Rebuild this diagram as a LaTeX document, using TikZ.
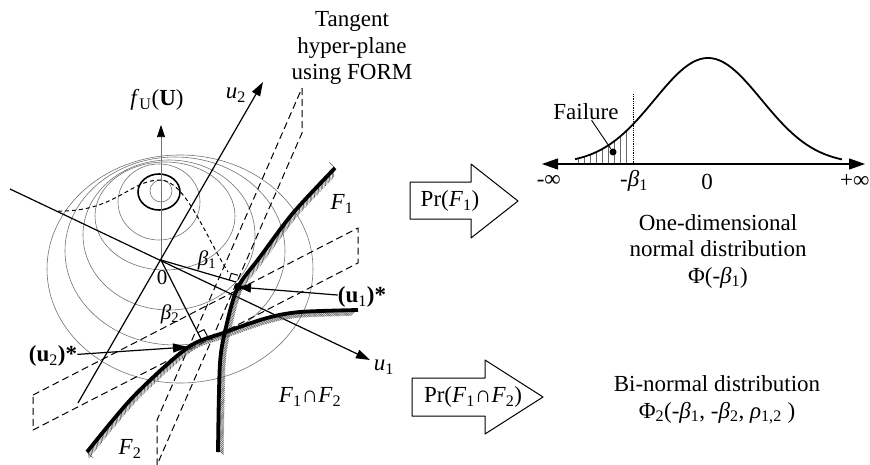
\documentclass[tikz,border=0pt]{standalone}
\usepackage{fontspec}
\setmainfont{Liberation Serif}
\usepackage{tikz}
\usetikzlibrary{calc}
\usetikzlibrary{arrows.meta}
\usetikzlibrary{decorations.pathreplacing}
\newcommand{\sub}[1]{\textsubscript{#1}}
\newcommand{\rightbox}[3]{\coordinate (rbA) at ($(#1)!7pt!(#2)$); \coordinate (rbB) at ($(#1)!7pt!#3:(#2)$); \draw[line width=1pt] (rbA) -- ($(rbA)+(rbB)-(#1)$) -- (rbB);}
\newcommand{\gauss}[1]{164-106*exp(-0.5*((#1-708)/53.5)^2)}

\begin{document}
\begin{tikzpicture}[x=1pt,y=-1pt,line join=round,
    txt/.style={font=\fontsize{23}{26.5}\selectfont, inner sep=0pt},
    sml/.style={font=\fontsize{21}{24}\selectfont, inner sep=0pt},
    contour/.style={black!55, line width=0.6pt},
    axis/.style={line width=1.2pt},
    plane/.style={dash pattern=on 7pt off 4pt, line width=1pt},
    limit/.style={line width=3.8pt},
    hatch/.style={black!65, line width=0.6pt, decorate, decoration={border, segment length=2pt, amplitude=#1, angle=45}},
    blockarrow/.style={line width=1pt, fill=white}]

    \useasboundingbox (0,0) rectangle (870,464);

    % contours of the joint density
    \draw[contour] (161,191) circle (11);
    \draw[line width=1.6pt] (159,192) ellipse [x radius=21, y radius=18];
    \foreach \cx/\cy/\rx/\ry in {159/202/41/38, 165/216/70/54, 169/235/86/75, 175/251/110/94, 180/269/133/114}
        \draw[contour] (\cx,\cy) ellipse [x radius=\rx, y radius=\ry];
    \draw[line width=1pt, dash pattern=on 4pt off 3pt] (58,211) .. controls (115,212) and (130,180) .. (160,180) .. controls (185,180) and (205,235) .. (228,272);

    % tangent planes
    \draw[plane] (302,88) -- (302,133) -- (157,465) -- (157,420) -- cycle;
    \draw[plane] (33,395) -- (358,228) -- (358,263) -- (33,430) -- cycle;

    % axes
    \coordinate (O) at (161,260);
    \coordinate (fUtip) at (161,125);
    \coordinate (u2a) at (78,403);
    \coordinate (u2b) at (263,82);
    \coordinate (u1a) at (10,189);
    \coordinate (u1b) at (370,360);
    \draw[contour, -{Triangle[length=12pt,width=8pt,color=black]}] (O) -- (fUtip);
    \draw[axis, -{Triangle[length=14pt,width=9pt]}] (u2a) -- (u2b);
    \draw[axis, -{Triangle[length=14pt,width=9pt]}] (u1a) -- (u1b);
    \node[txt] (fU) at (157,100) {\textit{f}\sub{U}(\textbf{U})};
    \node[txt] (u2) at (236,95) {\textit{u}\sub{2}};
    \node[txt] (u1) at (384,367) {\textit{u}\sub{1}};
    \node[sml] (zero0) at (162,278) {0};

    % reliability indices
    \coordinate (B1) at (236,282);
    \coordinate (B2) at (201,339);
    \draw[axis] (O) -- (B1);
    \draw[axis] (O) -- (B2);
    \rightbox{B1}{O}{-90}
    \rightbox{B2}{O}{-90}
    \node[sml] (beta1) at (207,260) {\textit{β}\sub{1}};
    \node[sml] (beta2) at (170,314) {\textit{β}\sub{2}};

    % limit state surfaces
    \draw[hatch=8pt] plot[smooth] coordinates {(335,168) (293,213) (260,257) (238,287) (227,323) (220,363) (218,452)};
    \draw[hatch=-8pt] plot[smooth] coordinates {(87,452) (133,397) (187,348) (223,333) (267,318) (300,312) (358,310)};
    \draw[limit] plot[smooth] coordinates {(335,168) (293,213) (260,257) (238,287) (227,323) (220,363) (218,452)};
    \draw[limit] plot[smooth] coordinates {(87,452) (133,397) (187,348) (223,333) (267,318) (300,312) (358,310)};
    \node[txt] (F1) at (342,204) {\textit{F}\sub{1}};
    \node[txt] (F2) at (130,449) {\textit{F}\sub{2}};
    \node[txt] (F12) at (310,397) {\textit{F}\sub{1}∩\textit{F}\sub{2}};

    % design points
    \coordinate (u1s) at (238,287);
    \coordinate (u2s) at (188,347);
    \fill (u1s) circle (4);
    \node[txt] (u1lab) at (362,297) {\textbf{(u\sub{\mdseries 1})*}};
    \node[txt] (u2lab) at (53,356) {\textbf{(u\sub{\mdseries 2})*}};
    \draw[axis, -{Triangle[length=13pt,width=9pt]}] (u1lab) -- (u1s);
    \draw[axis, -{Triangle[length=15pt,width=9pt]}] (u2lab) -- (u2s);

    \node[txt, align=center] (tang) at (352,48) {Tangent\\hyper-plane\\using FORM};

    % block arrows
    \draw[blockarrow] (410,182) -- (471,182) -- (471,164) -- (518,201) -- (471,238) -- (471,219) -- (410,219) -- cycle;
    \node[txt] (pr1) at (450,201) {Pr(\textit{F}\sub{1})};
    \draw[blockarrow] (412,378) -- (485,378) -- (485,360) -- (543,397) -- (485,434) -- (485,416) -- (412,416) -- cycle;
    \node[txt] (pr2) at (473,397) {Pr(\textit{F}\sub{1}∩\textit{F}\sub{2})};

    % one-dimensional normal
    \coordinate (axL) at (542,164);
    \coordinate (axR) at (865,164);
    \foreach \hx in {578,584,...,628}
        \draw[black!60, line width=0.6pt] (\hx,164) -- (\hx,{\gauss{\hx}});
    \draw[axis, {Triangle[length=16pt,width=11pt]}-{Triangle[length=16pt,width=11pt]}] (axL) -- (axR);
    \draw[line width=1.8pt, domain=575:842, samples=90] plot (\x, {\gauss{\x}});
    \draw[densely dotted, line width=0.8pt] (633,94) -- (633,164);
    \coordinate (fdot) at (613,152);
    \fill (fdot) circle (3.5);
    \node[txt] (fail) at (586,112) {Failure};
    \draw[line width=0.9pt, shorten >=4pt] (fail) -- (fdot);
    \node[txt, anchor=east] (minf) at (561,181) {-∞};
    \node[txt] (mbeta) at (634,181) {-\textit{β}\sub{1}};
    \node[txt] (zero1) at (707,182) {0};
    \node[txt, anchor=west] (pinf) at (840,181) {+∞};

    \node[txt, align=center] (onedim) at (718,251) {One-dimensional\\normal distribution\\Φ(-\textit{β}\sub{1})};
    \node[txt, align=center] (binorm) at (717,400) {Bi-normal distribution\\Φ\sub{2}(-\textit{β}\sub{1}, -\textit{β}\sub{2}, \textit{ρ}\sub{1,2} )};

\end{tikzpicture}
\end{document}
